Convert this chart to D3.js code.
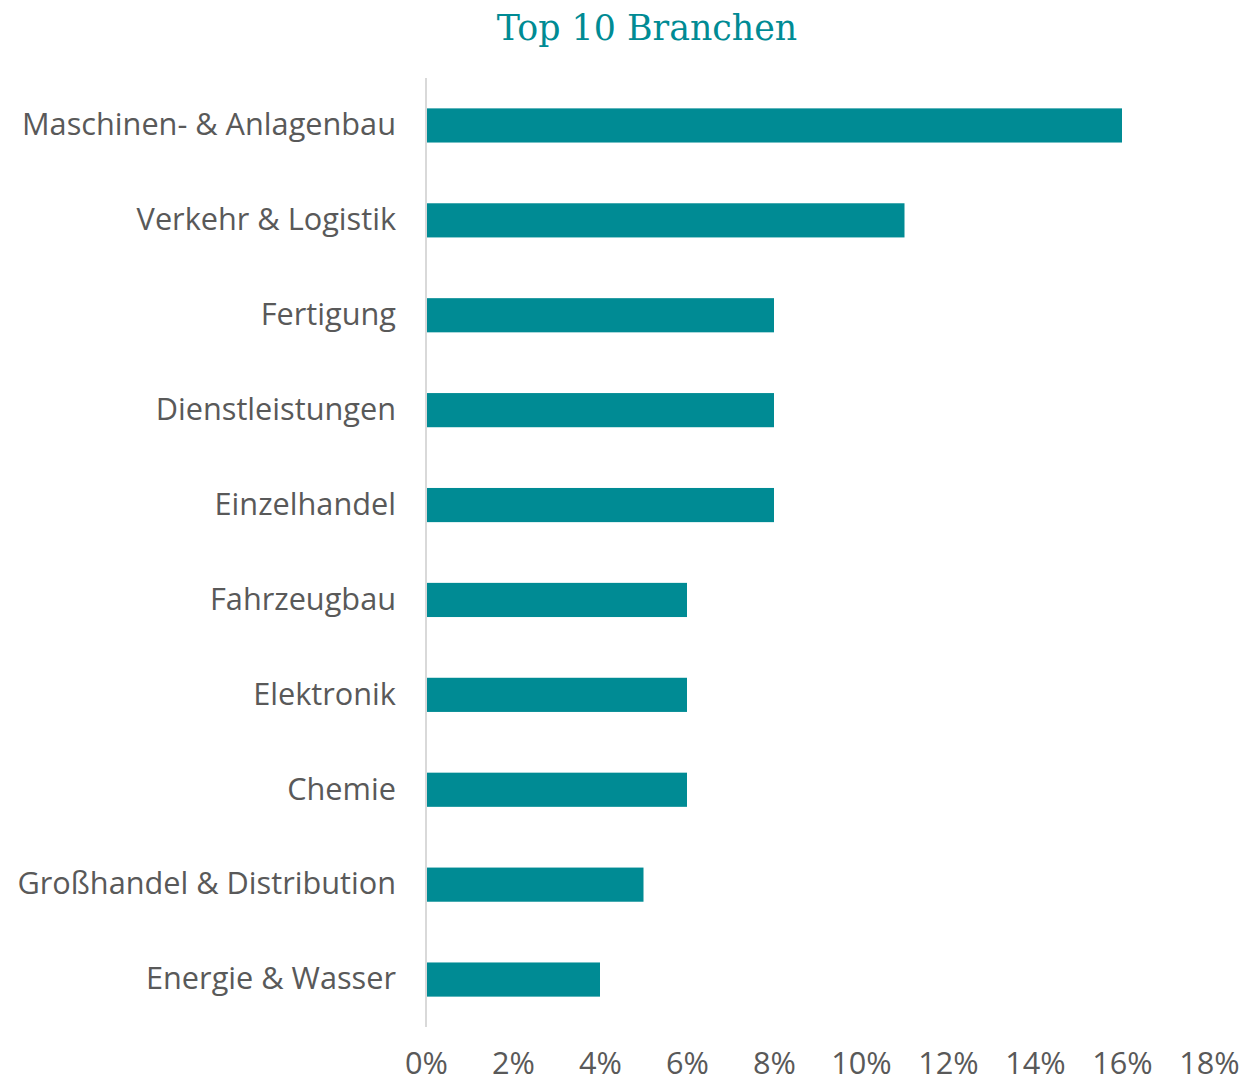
<!DOCTYPE html>
<html>
<head>
<meta charset="utf-8">
<script src="https://cdn.jsdelivr.net/npm/d3@7"></script>
<style>
  body { margin: 0; background: #fff; }
</style>
</head>
<body>
<div id="chart"></div>
<script>
const categories = [
  "Maschinen- & Anlagenbau",
  "Verkehr & Logistik",
  "Fertigung",
  "Dienstleistungen",
  "Einzelhandel",
  "Fahrzeugbau",
  "Elektronik",
  "Chemie",
  "Großhandel & Distribution",
  "Energie & Wasser"
];
const shares = [0.16, 0.11, 0.08, 0.08, 0.08, 0.06, 0.06, 0.06, 0.05, 0.04];
const tickValues = [0, 0.02, 0.04, 0.06, 0.08, 0.10, 0.12, 0.14, 0.16, 0.18];
const titleText = "Top 10 Branchen";

const width = 1245;
const height = 1083;
const margin = { top: 78, right: 36, bottom: 56, left: 426 };

const teal = "#008b94";
const textColor = "#595959";

const svg = d3.select("#chart")
  .append("svg")
  .attr("width", width)
  .attr("height", height);

svg.append("text")
  .attr("x", 647)
  .attr("y", 40)
  .attr("text-anchor", "middle")
  .style("font-family", "'DejaVu Serif', serif")
  .style("font-size", "34.8px")
  .style("fill", teal)
  .text(titleText);

const x = d3.scaleLinear()
  .domain([0, 0.18])
  .range([margin.left, 1209]);

const y = d3.scaleBand()
  .domain(categories)
  .range([margin.top, height - margin.bottom])
  .paddingInner(0.64)
  .paddingOuter(0.32);

svg.append("g")
  .selectAll("rect")
  .data(categories)
  .join("rect")
  .attr("x", x(0) + 1)
  .attr("y", (d) => y(d))
  .attr("width", (d, i) => x(shares[i]) - x(0) - 1)
  .attr("height", y.bandwidth())
  .attr("fill", teal);

// vertical category axis line
svg.append("line")
  .attr("x1", x(0))
  .attr("x2", x(0))
  .attr("y1", margin.top)
  .attr("y2", height - margin.bottom)
  .attr("stroke", "#d9d9d9")
  .attr("stroke-width", 2);

const yAxis = svg.append("g")
  .attr("transform", `translate(${x(0) - 30},0)`)
  .call(d3.axisLeft(y).tickSize(0).tickPadding(0));
yAxis.select(".domain").remove();
yAxis.selectAll("text")
  .style("font-family", "'Open Sans', sans-serif")
  .style("font-size", "30.7px")
  .style("fill", textColor);

const xAxis = svg.append("g")
  .attr("transform", `translate(0,${height - 32})`)
  .call(d3.axisBottom(x).tickValues(tickValues).tickFormat(d3.format(".0%")).tickSize(0).tickPadding(0));
xAxis.select(".domain").remove();
xAxis.selectAll("text")
  .attr("dy", "0.75em")
  .style("font-family", "'Open Sans', sans-serif")
  .style("font-size", "30.7px")
  .style("fill", textColor);
</script>
</body>
</html>
